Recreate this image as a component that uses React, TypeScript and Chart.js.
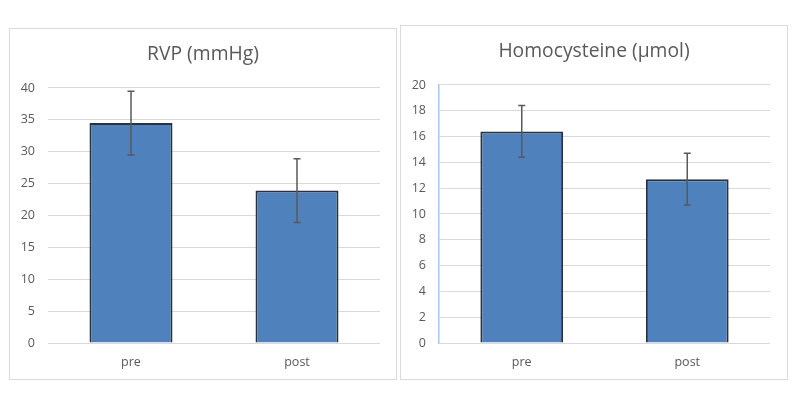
import React, { useEffect, useRef } from "react";
import { Chart, registerables } from "chart.js";

Chart.register(...registerables);

const categories = ["pre", "post"];
const rvpValues = [34.5, 23.9];
const rvpErrors = [5, 5];
const homoValues = [16.4, 12.7];
const homoErrors = [2, 2];

const TEXT = "#595959";
const GRID = "#D9D9D9";
const FONT = "'Open Sans', Lato, sans-serif";

const errorBarPlugin = {
  id: "errorBars",
  afterDatasetsDraw(chart: any) {
    const errs: number[] = chart.options.plugins.errorBars?.errors || [];
    const meta = chart.getDatasetMeta(0);
    const ys = chart.scales.y;
    const ctx = chart.ctx;
    const vals = chart.data.datasets[0].data as number[];
    ctx.save();
    ctx.strokeStyle = "#595959";
    ctx.lineWidth = 1.5;
    meta.data.forEach((el: any, i: number) => {
      const v = vals[i];
      const e = errs[i] || 0;
      const x = el.x;
      const yTop = ys.getPixelForValue(v + e);
      const yBot = ys.getPixelForValue(v - e);
      ctx.beginPath();
      ctx.moveTo(x, yTop);
      ctx.lineTo(x, yBot);
      ctx.moveTo(x - 3.5, yTop);
      ctx.lineTo(x + 3.5, yTop);
      ctx.moveTo(x - 3.5, yBot);
      ctx.lineTo(x + 3.5, yBot);
      ctx.stroke();
    });
    ctx.restore();
  },
};

type Props = {
  title: string;
  values: number[];
  errors: number[];
  max: number;
  step: number;
  showAxisLine: boolean;
  rightPad: number;
  box: { left: number; top: number; width: number; height: number };
};

function BarChart({ title, values, errors, max, step, showAxisLine, rightPad, box }: Props) {
  const ref = useRef<HTMLCanvasElement>(null);
  useEffect(() => {
    if (!ref.current) return;
    const chart = new Chart(ref.current, {
      type: "bar",
      data: {
        labels: categories,
        datasets: [
          {
            data: values,
            backgroundColor: "#4F81BD",
            borderColor: "#28323E",
            borderWidth: 2,
            barPercentage: 0.5,
            categoryPercentage: 1,
          },
        ],
      },
      options: {
        animation: false,
        responsive: false,
        maintainAspectRatio: false,
        layout: { padding: 0 },
        plugins: {
          legend: { display: false },
          tooltip: { enabled: false },
          title: {
            display: true,
            text: title,
            color: TEXT,
            font: { family: FONT, size: 19.3, weight: "normal", lineHeight: 1.2 },
            padding: { top: 14.4, bottom: 21.4 },
          },
          errorBars: { errors },
        } as any,
        scales: {
          x: {
            grid: { display: false, drawTicks: false },
            border: { display: false },
            ticks: { color: TEXT, font: { family: FONT, size: 12.5 }, padding: 12 },
            afterFit: (s: any) => {
              s.height = 36;
            },
          },
          y: {
            min: 0,
            max,
            ticks: { stepSize: step, color: TEXT, font: { family: FONT, size: 12.5 }, padding: 13 },
            grid: { color: GRID, drawTicks: false, lineWidth: 1 },
            border: { display: showAxisLine, color: "#A9C6EA", width: 1.5 },
            afterFit: (s: any) => {
              s.width = 38;
            },
          },
          yRight: {
            position: "right",
            min: 0,
            max,
            grid: { display: false, drawTicks: false },
            border: { display: false },
            ticks: { display: false },
            afterFit: (s: any) => {
              s.width = rightPad;
            },
          },
        },
      },
      plugins: [errorBarPlugin],
    });
    return () => chart.destroy();
  }, []);
  return (
    <div
      style={{
        position: "absolute",
        left: box.left,
        top: box.top,
        width: box.width,
        height: box.height,
        border: "1px solid #D9D9D9",
        boxSizing: "border-box",
        background: "#fff",
      }}
    >
      <canvas ref={ref} width={box.width - 2} height={box.height - 2} style={{ display: "block" }} />
    </div>
  );
}

export default function App() {
  return (
    <div style={{ position: "absolute", left: 0, top: 0, width: 800, height: 398, background: "#fff" }}>
      <BarChart
        title="RVP (mmHg)"
        values={rvpValues}
        errors={rvpErrors}
        max={40}
        step={5}
        showAxisLine={false}
        rightPad={16}
        box={{ left: 9, top: 28, width: 388, height: 352 }}
      />
      <BarChart
        title="Homocysteine (µmol)"
        values={homoValues}
        errors={homoErrors}
        max={20}
        step={2}
        showAxisLine={true}
        rightPad={17}
        box={{ left: 400, top: 25, width: 388, height: 355 }}
      />
    </div>
  );
}
